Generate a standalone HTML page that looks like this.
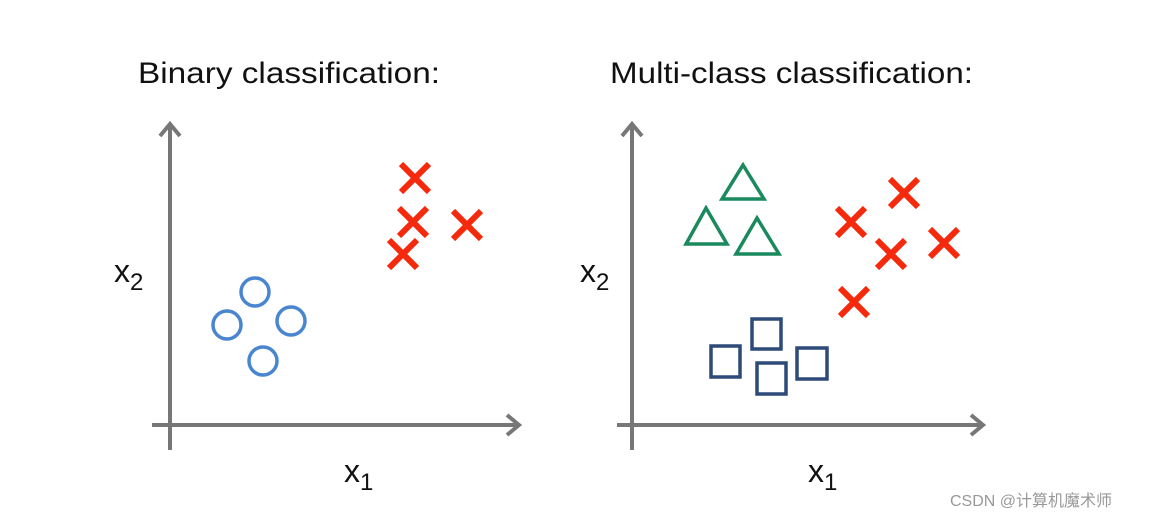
<!DOCTYPE html>
<html><head><style>
html,body{margin:0;padding:0;background:#fff;}
svg{display:block;}
text{font-family:"Liberation Sans","Noto Sans CJK SC",sans-serif;}
</style></head><body>
<svg width="1157" height="520" viewBox="0 0 1157 520" xmlns="http://www.w3.org/2000/svg">
<defs>
<g id="x"><path d="M-14,-14L14,14M14,-14L-14,14" stroke="#f52a0c" stroke-width="6" stroke-linecap="butt"/></g>
</defs>
<text x="138" y="83" font-size="30" fill="#111" textLength="302" lengthAdjust="spacingAndGlyphs">Binary classification:</text>
<text x="610" y="83" font-size="30" fill="#111" textLength="363" lengthAdjust="spacingAndGlyphs">Multi-class classification:</text>
<g stroke="#777" stroke-width="4" fill="none">
<path d="M170,450V124M160,136L170,124L180,136"/>
<path d="M152,425H519M507,415L519,425L507,435"/>
<path d="M632,450V124M622,136L632,124L642,136"/>
<path d="M617,425H983M971,415L983,425L971,435"/>
</g>
<text x="114" y="282" font-size="32" fill="#111">x<tspan font-size="24" dy="8">2</tspan></text>
<text x="344" y="482" font-size="32" fill="#111">x<tspan font-size="24" dy="8">1</tspan></text>
<text x="580" y="282" font-size="32" fill="#111">x<tspan font-size="24" dy="8">2</tspan></text>
<text x="808" y="482" font-size="32" fill="#111">x<tspan font-size="24" dy="8">1</tspan></text>
<use href="#x" x="415" y="178"/><use href="#x" x="413" y="222"/><use href="#x" x="467" y="225"/><use href="#x" x="403" y="254"/>
<g stroke="#4a86d0" stroke-width="3.5" fill="none">
<circle cx="255" cy="292" r="14"/><circle cx="227" cy="325" r="14"/><circle cx="291" cy="321" r="14"/><circle cx="263" cy="361" r="14"/>
</g>
<g stroke="#1a8a5e" stroke-width="3.5" fill="none" stroke-linejoin="miter">
<path d="M743,165L764,199H722Z"/><path d="M706,208L727,244H686Z"/><path d="M757,218L779,254H736Z"/>
</g>
<g stroke="#2d4a78" stroke-width="3.5" fill="none">
<rect x="711" y="346" width="29" height="31"/><rect x="752" y="319" width="29" height="30"/><rect x="757" y="363" width="29" height="31"/><rect x="797" y="348" width="30" height="31"/>
</g>
<use href="#x" x="851" y="222"/><use href="#x" x="904" y="193"/><use href="#x" x="891" y="254"/><use href="#x" x="944" y="243"/><use href="#x" x="854" y="302"/>
<text x="950" y="506" font-size="16" fill="#999">CSDN @计算机魔术师</text>
</svg>
</body></html>
